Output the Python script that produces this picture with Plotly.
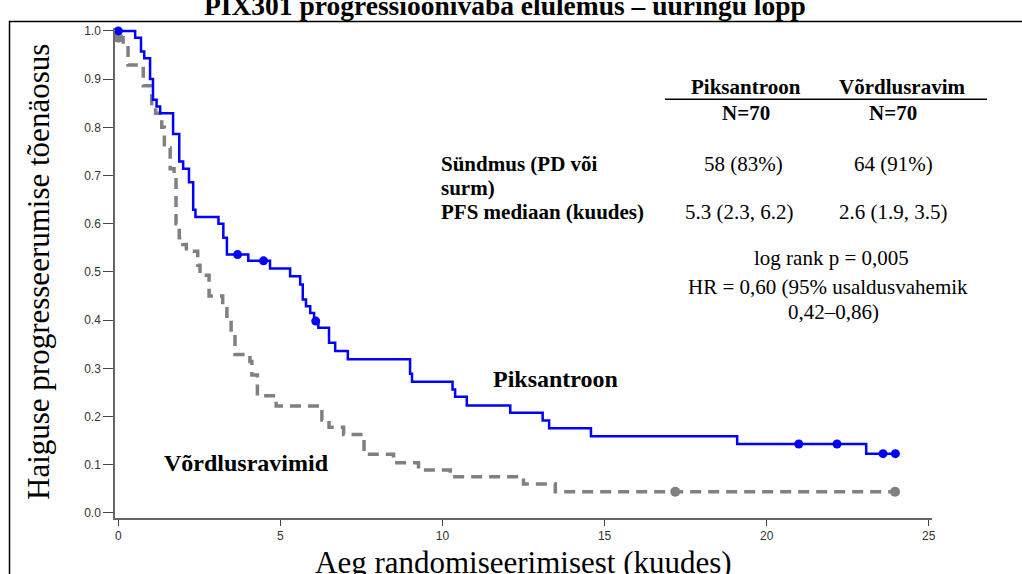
import plotly.graph_objects as go

# ---------------- data ----------------
pix_t = [0, 0.52, 0.70, 0.80, 0.98, 1.07, 1.18, 1.29, 1.69, 1.88, 2.00, 2.18, 2.31, 2.38,
         3.09, 3.24, 3.35, 4.01, 4.68, 5.30, 5.61, 5.69, 5.79, 5.92, 6.04, 6.17, 6.50, 6.69,
         7.08, 9.00, 9.06, 10.31, 10.39, 10.75, 12.09, 13.09, 13.29, 14.58, 19.09, 23.07, 24.0]
pix_s = [1.0, 0.986, 0.957, 0.943, 0.900, 0.857, 0.843, 0.829, 0.786, 0.729, 0.714, 0.686,
         0.629, 0.614, 0.600, 0.571, 0.536, 0.523, 0.507, 0.491, 0.474, 0.443, 0.429, 0.415,
         0.398, 0.384, 0.353, 0.336, 0.319, 0.289, 0.272, 0.256, 0.241, 0.223, 0.208, 0.192,
         0.176, 0.159, 0.143, 0.123, 0.123]
pix_cens_t = [0, 3.68, 4.48, 6.09, 20.99, 22.17, 23.59, 23.97]
pix_cens_s = [1.0, 0.536, 0.523, 0.398, 0.143, 0.143, 0.123, 0.123]

cmp_t = [0, 0.15, 0.30, 0.77, 1.03, 1.15, 1.34, 1.42, 1.60, 1.72, 1.78, 1.88, 1.99, 2.10,
         2.45, 2.52, 2.80, 3.22, 3.35, 3.48, 3.60, 4.06, 4.12, 4.29, 4.87, 6.28, 6.50, 6.95,
         7.58, 8.49, 9.26, 10.24, 12.50, 13.48, 24.0]
cmp_s = [0.986, 0.971, 0.929, 0.886, 0.843, 0.829, 0.800, 0.757, 0.714, 0.700, 0.600, 0.571,
         0.557, 0.543, 0.514, 0.493, 0.450, 0.429, 0.400, 0.371, 0.329, 0.314, 0.286, 0.243,
         0.222, 0.193, 0.178, 0.163, 0.122, 0.104, 0.089, 0.075, 0.060, 0.044, 0.044]
cmp_cens_t = [0, 17.18, 23.96]
cmp_cens_s = [0.986, 0.044, 0.044]

x_ticks = [0, 5, 10, 15, 20, 25]
y_ticks = [0.0, 0.1, 0.2, 0.3, 0.4, 0.5, 0.6, 0.7, 0.8, 0.9, 1.0]

title_text = "PIX301 progressioonivaba elulemus – uuringu lõpp"
x_title = "Aeg randomiseerimisest (kuudes)"
y_title = "Haiguse progresseerumise tõenäosus"
col_heads = ["Piksantroon", "Võrdlusravim"]
col_n = ["N=70", "N=70"]
row_labels = ["Sündmus (PD või", "surm)", "PFS mediaan (kuudes)"]
events = ["58 (83%)", "64 (91%)"]
medians = ["5.3 (2.3, 6.2)", "2.6 (1.9, 3.5)"]
stats = ["log rank p = 0,005", "HR = 0,60 (95% usaldusvahemik", "0,42–0,86)"]
curve_labels = ["Piksantroon", "Võrdlusravimid"]

# ---------------- layout geometry ----------------
W, H = 1022, 574
ML, MR, MT, MB = 115, 90, 28, 56
PW, PH = W - ML - MR, H - MT - MB


def px(x):
    return (x - ML) / PW


def py(y):
    return (H - MB - y) / PH


SERIF = "Liberation Serif, Times New Roman, serif"
SANS = "Liberation Sans, Arial, sans-serif"
BLUE = "#0000FF"
GREY = "#808080"

fig = go.Figure()
fig.add_trace(go.Scatter(x=cmp_t, y=cmp_s, mode="lines", line_shape="hv",
                         line=dict(color=GREY, width=3.5, dash="11px,7px"),
                         showlegend=False, hoverinfo="skip"))
fig.add_trace(go.Scatter(x=pix_t, y=pix_s, mode="lines", line_shape="hv",
                         line=dict(color=BLUE, width=2.5),
                         showlegend=False, hoverinfo="skip"))
fig.add_trace(go.Scatter(x=cmp_cens_t, y=cmp_cens_s, mode="markers",
                         marker=dict(color=GREY, size=10), showlegend=False,
                         cliponaxis=False, hoverinfo="skip"))
fig.add_trace(go.Scatter(x=pix_cens_t, y=pix_cens_s, mode="markers",
                         marker=dict(color=BLUE, size=9), showlegend=False,
                         cliponaxis=False, hoverinfo="skip"))

ann = []


def text(x, y, s, size=21, bold=False, xanchor="center", angle=0):
    ann.append(dict(x=px(x), y=py(y), xref="paper", yref="paper", text=(f"<b>{s}</b>" if bold else s),
                    showarrow=False, xanchor=xanchor, yanchor="middle", textangle=angle,
                    font=dict(family=SERIF, size=size, color="black")))


text(505, 5, title_text, size=27.5, bold=True)
text(38, 272, y_title, size=31, angle=-90)
text(523, 562, x_title, size=31)

col_x = [746, 893]
text(col_x[0], 87, col_heads[0], bold=True)
text(902, 87, col_heads[1], bold=True)
for i in range(2):
    text(col_x[i], 113, col_n[i], bold=True)
text(743, 164, events[0])
text(col_x[1], 164, events[1])
text(739, 212.5, medians[0])
text(col_x[1], 212.5, medians[1])
text(439, 163.5, row_labels[0], bold=True, xanchor="left")
text(439, 188, row_labels[1], bold=True, xanchor="left")
text(439, 212.5, row_labels[2], bold=True, xanchor="left")
text(831, 258, stats[0])
text(828, 286.5, stats[1])
text(833, 312, stats[2])
text(491, 379, curve_labels[0], size=24, bold=True, xanchor="left")
text(162, 463, curve_labels[1], size=24, bold=True, xanchor="left")

shapes = [
    dict(type="line", xref="paper", yref="paper", x0=px(665), x1=px(987), y0=py(99.3), y1=py(99.3),
         line=dict(color="black", width=1.5)),
    dict(type="rect", xref="paper", yref="paper", x0=px(9.5), x1=px(1030), y0=py(590), y1=py(21.5),
         line=dict(color="black", width=1.5), layer="below"),
]

axis_common = dict(showgrid=False, zeroline=False, showline=True, linecolor="#666666", linewidth=1.5,
                   ticks="outside", tickcolor="#444444", tickwidth=1.2,
                   tickfont=dict(family=SANS, size=12, color="#333333"))

fig.update_layout(
    width=W, height=H, margin=dict(l=ML, r=MR, t=MT, b=MB, autoexpand=False),
    paper_bgcolor="white", plot_bgcolor="white", hovermode=False,
    xaxis=dict(range=[-0.102, 25.1], tickvals=x_ticks, ticklen=6, **axis_common),
    yaxis=dict(range=[-0.0104, 1.006], tickvals=y_ticks, tickformat=".1f", ticklen=10, **axis_common),
    annotations=ann, shapes=shapes,
)

fig.write_html("out.html", config={"displayModeBar": False},
               post_script="document.body.style.margin='0';")
